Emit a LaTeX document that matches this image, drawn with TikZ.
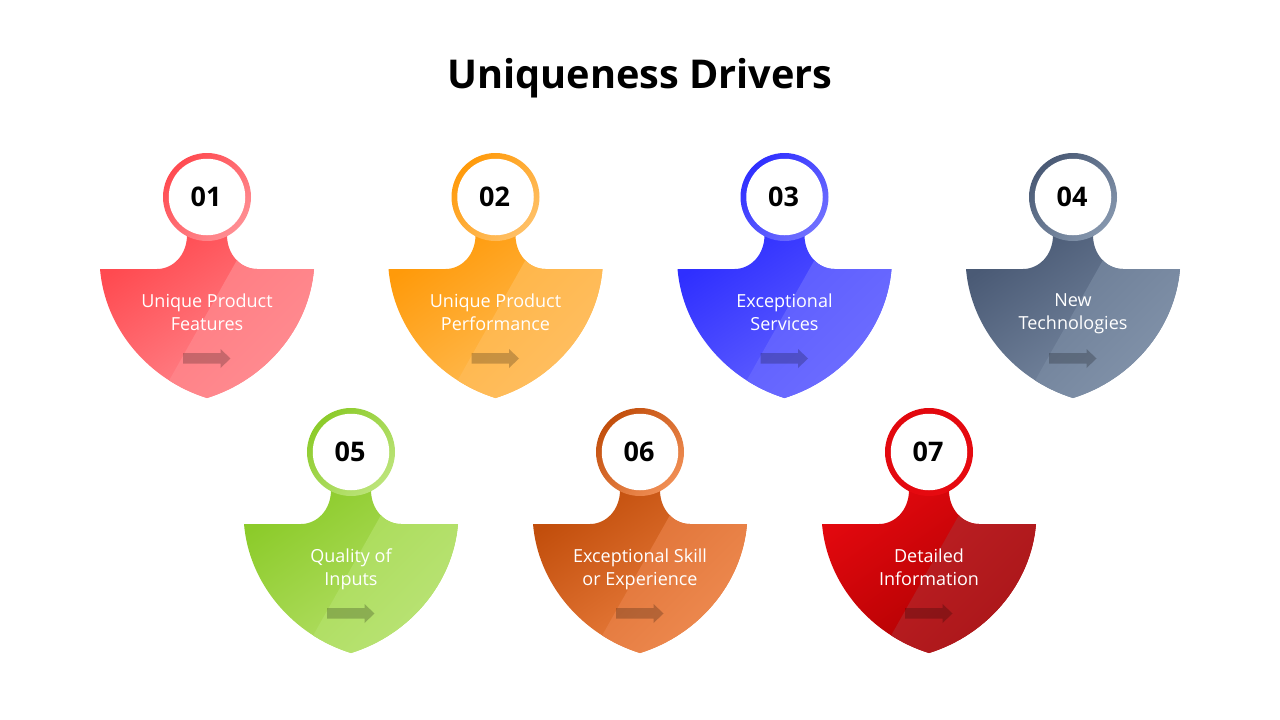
\documentclass[tikz,border=0pt]{standalone}
\usepackage{fontspec}
\setmainfont{Open Sans}
\usepackage{tikz}
\definecolor{redA}{HTML}{FF4A50}\definecolor{redB}{HTML}{FF9096}\definecolor{redC}{HTML}{FF7A80}\definecolor{redD}{HTML}{FF8E93}
\definecolor{orgA}{HTML}{FF9A0A}\definecolor{orgB}{HTML}{FFC262}\definecolor{orgC}{HTML}{FFB443}\definecolor{orgD}{HTML}{FFC066}
\definecolor{bluA}{HTML}{2F2FFF}\definecolor{bluB}{HTML}{6A6AFF}\definecolor{bluC}{HTML}{5A5AFF}\definecolor{bluD}{HTML}{7070FF}
\definecolor{slaA}{HTML}{4A5A75}\definecolor{slaB}{HTML}{7F90A8}\definecolor{slaC}{HTML}{6A7B94}\definecolor{slaD}{HTML}{8596AD}
\definecolor{grnA}{HTML}{8CCB2A}\definecolor{grnB}{HTML}{BAE270}\definecolor{grnC}{HTML}{A8DB55}\definecolor{grnD}{HTML}{BCE47A}
\definecolor{brnA}{HTML}{C24E0C}\definecolor{brnB}{HTML}{F08646}\definecolor{brnC}{HTML}{DE7034}\definecolor{brnD}{HTML}{F08E54}
\definecolor{crmA}{HTML}{E2080E}\definecolor{crmB}{HTML}{A80000}\definecolor{crmC}{HTML}{BE2024}\definecolor{crmD}{HTML}{A81518}\definecolor{crmE}{HTML}{E60A10}
\newcommand{\shieldpath}{(-20,38) .. controls (-20,58) and (-34,72) .. (-50,72) -- (-107,72)
	.. controls (-102,132) and (-58,183) .. (0,201)
	.. controls (58,183) and (102,132) .. (107,72) -- (50,72)
	.. controls (34,72) and (20,58) .. (20,38) -- cycle}

\begin{document}
\begin{tikzpicture}[x=1pt,y=-1pt,
	ring node/.style={circle,inner sep=0pt,minimum size=88pt},
	num node/.style={circle,fill=white,inner sep=0pt,minimum size=76.5pt,font=\bfseries\fontsize{27}{30}\selectfont},
	label node/.style={text=white,align=center,font=\fontsize{18}{23}\selectfont,
		execute at begin node=\strut,execute at end node=\strut}]

	\useasboundingbox (0,0) rectangle (1280,720);
	\node (title) at (640,78) {\bfseries\fontsize{39.7}{46}\selectfont Uniqueness Drivers};

	\foreach \cx/\cy/\num/\txt/\ca/\cb/\cc/\cd/\ce in {
		207/197/01/{Unique Product\\Features}/redA/redB/redC/redD/redD,
		495.5/197/02/{Unique Product\\Performance}/orgA/orgB/orgC/orgD/orgD,
		784.5/197/03/{Exceptional\\Services}/bluA/bluB/bluC/bluD/bluD,
		1073/197/04/{New\\Technologies}/slaA/slaB/slaC/slaD/slaD,
		351/452/05/{Quality of\\Inputs}/grnA/grnB/grnC/grnD/grnD,
		640/452/06/{Exceptional Skill\\or Experience}/brnA/brnB/brnC/brnD/brnD,
		929/452/07/{Detailed\\Information}/crmA/crmB/crmC/crmD/crmE}{
		\begin{scope}[shift={(\cx,\cy)}]
			\shade[top color=\ca,bottom color=\cb,shading angle=35] \shieldpath;
			\begin{scope}
				\clip \shieldpath;
				\shade[top color=\cc,bottom color=\cd,shading angle=45] (43,40) -- (130,40) -- (130,205) -- (-50,205) -- cycle;
			\end{scope}
			\fill[black,opacity=0.22] (-24,156) -- (13.5,156) -- (13.5,152) -- (23.5,161.5) -- (13.5,171) -- (13.5,166.5) -- (-24,166.5) -- cycle;
			\node[ring node,top color=\ca,bottom color=\ce,shading angle=45] (ring\num) at (0,0) {};
			\node[num node] (num\num) at (ring\num.center) {\raisebox{-2pt}{\hspace*{-2pt}\num}};
			\node[label node] (label\num) at (0,118.5) {\txt};
		\end{scope}
	}

\end{tikzpicture}
\end{document}
